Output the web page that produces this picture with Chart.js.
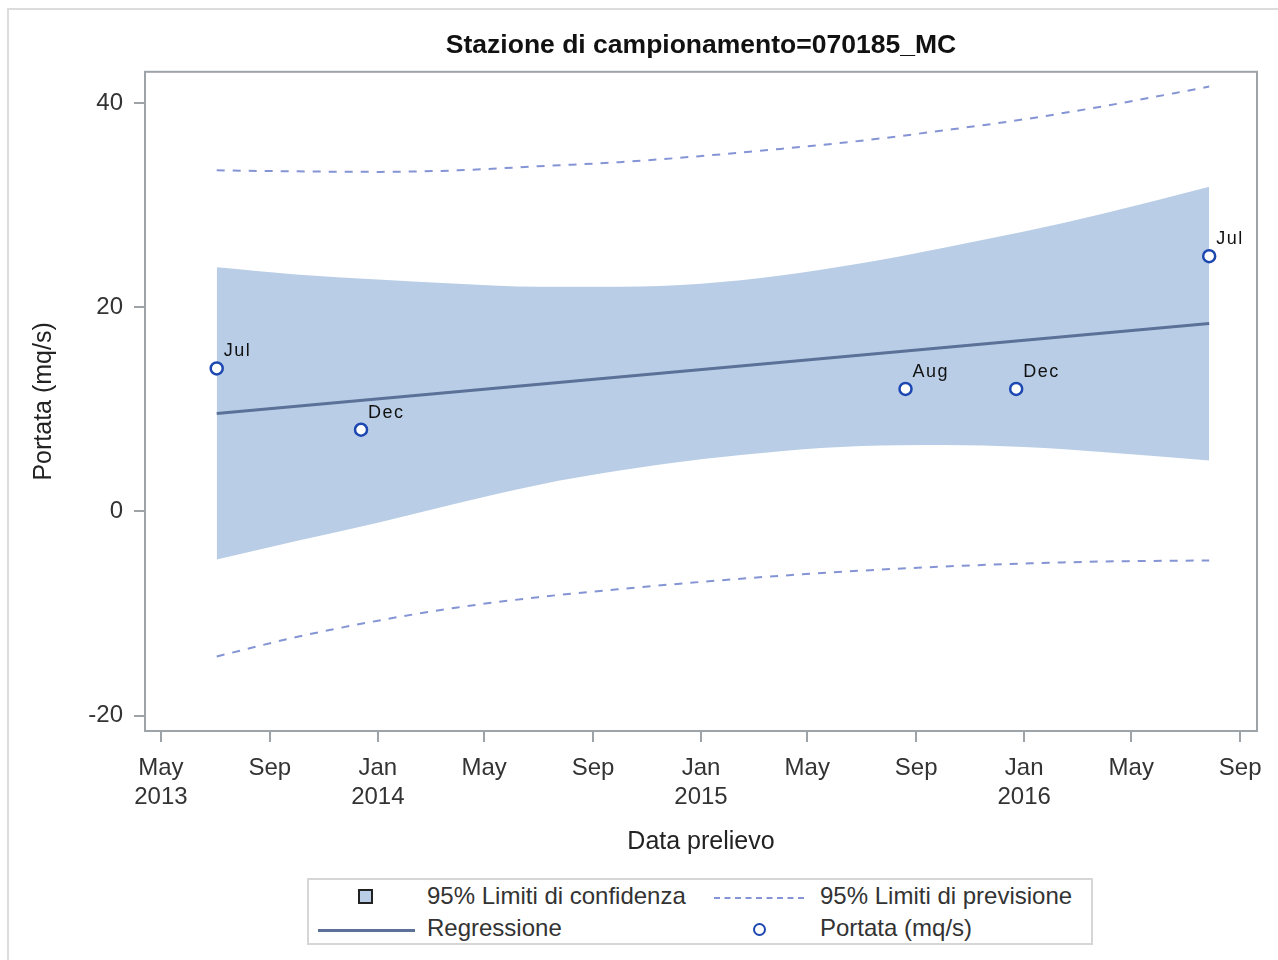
<!DOCTYPE html>
<html>
<head>
<meta charset="utf-8">
<script src="https://cdn.jsdelivr.net/npm/chart.js@4.4.1/dist/chart.umd.min.js"></script>
<style>
  html, body { margin: 0; padding: 0; background: #fff; }
  body { width: 1278px; height: 960px; position: relative; overflow: hidden; font-family: "Liberation Sans", Arial, sans-serif; }
  #frame { position: absolute; left: 7px; top: 8px; width: 1300px; height: 1000px; border: 2px solid #dcdcdc; box-sizing: border-box; }
  #wrap { position: absolute; left: 0; top: 0; width: 1278px; height: 960px; }
  #legend { position: absolute; left: 307px; top: 878px; width: 786px; height: 67px; border: 2px solid #d6d6d6; box-sizing: border-box; background: #fff; }
  #legend .txt { position: absolute; font-size: 24px; color: #333; line-height: 28px; white-space: nowrap; }
  #legend .sq { position: absolute; width: 15px; height: 15px; background: #b9cee6; border: 2px solid #222; box-sizing: border-box; }
  #legend .dash { position: absolute; height: 0; border-top: 2px dashed #8494d4; }
  #legend .solid { position: absolute; height: 0; border-top: 3px solid #5b7198; }
  #legend .dot { position: absolute; width: 13px; height: 13px; border: 2px solid #1d47b1; border-radius: 50%; box-sizing: border-box; }
</style>
</head>
<body>
<div id="frame"></div>
<div id="wrap"><canvas id="chart" width="1278" height="960"></canvas></div>
<div id="legend">
  <div class="sq" style="left:49px;top:9px"></div>
  <div class="txt" style="left:118px;top:2px">95% Limiti di confidenza</div>
  <div class="dash" style="left:405px;top:17px;width:90px"></div>
  <div class="txt" style="left:511px;top:2px">95% Limiti di previsione</div>
  <div class="solid" style="left:9px;top:49px;width:97px"></div>
  <div class="txt" style="left:118px;top:34px">Regressione</div>
  <div class="dot" style="left:444px;top:43px"></div>
  <div class="txt" style="left:511px;top:34px">Portata (mq/s)</div>
</div>
<script>
// observed values
const pointDates = ['2013-07-03', '2013-12-13', '2015-08-20', '2015-12-23', '2016-07-28'];
const portata = [14, 8, 12, 12, 25];
const pointLabels = ['Jul', 'Dec', 'Aug', 'Dec', 'Jul'];

// regression line
const regDates = ['2013-07-03', '2016-07-28'];
const regValues = [9.6, 18.4];

// confidence / prediction limits, read at these dates
const curveDates = ['2013-07-03', '2013-10-01', '2014-01-01', '2014-04-01', '2014-07-01', '2014-10-01',
  '2015-01-01', '2015-04-01', '2015-07-01', '2015-10-01', '2016-01-01', '2016-04-01', '2016-07-28'];
const confUpper = [23.9, 23.2, 22.7, 22.3, 22.0, 22.0, 22.3, 23.1, 24.3, 25.8, 27.4, 29.2, 31.8];
const confLower = [-4.7, -2.9, -1.1, 0.8, 2.6, 4.0, 5.1, 5.9, 6.4, 6.5, 6.3, 5.8, 5.0];
const predUpper = [33.4, 33.3, 33.25, 33.4, 33.8, 34.2, 34.8, 35.5, 36.3, 37.3, 38.4, 39.7, 41.6];
const predLower = [-14.2, -12.3, -10.7, -9.4, -8.4, -7.6, -6.9, -6.3, -5.8, -5.4, -5.1, -4.9, -4.8];

// axes
const xTickDates = ['2013-05-01', '2013-09-01', '2014-01-01', '2014-05-01', '2014-09-01', '2015-01-01',
  '2015-05-01', '2015-09-01', '2016-01-01', '2016-05-01', '2016-09-01'];
const xTickLabels = [['May', '2013'], 'Sep', ['Jan', '2014'], 'May', 'Sep', ['Jan', '2015'],
  'May', 'Sep', ['Jan', '2016'], 'May', 'Sep'];
const xRange = ['2013-04-13', '2016-09-20'];
const yTicks = [-20, 0, 20, 40];
const yRange = [-21.5, 43.05];

const toDay = s => {
  const [y, m, d] = s.split('-').map(Number);
  return Date.UTC(y, m - 1, d) / 86400000;
};
const series = (dates, vals) => dates.map((d, i) => ({ x: toDay(d), y: vals[i] }));

const tickColor = '#333';
const axisColor = '#9ea3a8';
const fontFamily = '"Liberation Sans", Arial, sans-serif';

const framePlugin = {
  id: 'frame',
  afterDraw(chart) {
    const { ctx, chartArea: a } = chart;
    ctx.save();
    ctx.strokeStyle = axisColor;
    ctx.lineWidth = 2;
    ctx.strokeRect(a.left, a.top, a.right - a.left, a.bottom - a.top);
    ctx.restore();
  }
};

const pointLabelPlugin = {
  id: 'pointLabels',
  afterDatasetsDraw(chart) {
    const { ctx } = chart;
    const meta = chart.getDatasetMeta(0);
    ctx.save();
    ctx.font = '18px ' + fontFamily;
    ctx.letterSpacing = '1.5px';
    ctx.fillStyle = '#111';
    ctx.textBaseline = 'alphabetic';
    meta.data.forEach((pt, i) => {
      ctx.fillText(pointLabels[i], pt.x + 7, pt.y - 12);
    });
    ctx.restore();
  }
};

new Chart(document.getElementById('chart'), {
  type: 'line',
  data: {
    datasets: [
      {
        label: 'Portata (mq/s)',
        data: series(pointDates, portata),
        showLine: false,
        pointRadius: 6,
        pointBorderWidth: 2.5,
        pointBorderColor: '#1d47b1',
        pointBackgroundColor: '#ffffff',
        order: 0
      },
      {
        label: 'Regressione',
        data: series(regDates, regValues),
        borderColor: '#5b7198',
        borderWidth: 3,
        pointRadius: 0,
        fill: false,
        order: 1
      },
      {
        label: '95% Limiti di previsione',
        data: series(curveDates, predUpper),
        borderColor: '#8494d4',
        borderWidth: 2,
        borderDash: [8, 8],
        pointRadius: 0,
        cubicInterpolationMode: 'monotone',
        fill: false,
        order: 2
      },
      {
        label: '95% Limiti di previsione (inf)',
        data: series(curveDates, predLower),
        borderColor: '#8494d4',
        borderWidth: 2,
        borderDash: [8, 8],
        pointRadius: 0,
        cubicInterpolationMode: 'monotone',
        fill: false,
        order: 2
      },
      {
        label: '95% Limiti di confidenza',
        data: series(curveDates, confUpper),
        borderWidth: 0,
        borderColor: 'rgba(0,0,0,0)',
        backgroundColor: '#b9cee6',
        pointRadius: 0,
        cubicInterpolationMode: 'monotone',
        fill: '+1',
        order: 3
      },
      {
        label: '95% Limiti di confidenza (inf)',
        data: series(curveDates, confLower),
        borderWidth: 0,
        borderColor: 'rgba(0,0,0,0)',
        pointRadius: 0,
        cubicInterpolationMode: 'monotone',
        fill: false,
        order: 3
      }
    ]
  },
  options: {
    responsive: false,
    animation: false,
    layout: { padding: { top: 10, right: 21, bottom: 100, left: 0 } },
    plugins: {
      legend: { display: false },
      tooltip: { enabled: false },
      title: {
        display: true,
        fullSize: false,
        text: 'Stazione di campionamento=070185_MC',
        color: '#111',
        font: { family: fontFamily, size: 26.5, weight: 'bold' },
        padding: { top: 20, bottom: 10 }
      }
    },
    scales: {
      x: {
        type: 'linear',
        min: toDay(xRange[0]),
        max: toDay(xRange[1]),
        afterBuildTicks: s => { s.ticks = xTickDates.map(d => ({ value: toDay(d) })); },
        afterFit: s => { s.height = 129; },
        ticks: {
          autoSkip: false,
          maxRotation: 0,
          padding: 12,
          color: tickColor,
          font: { family: fontFamily, size: 24 },
          callback: (v, i) => xTickLabels[i]
        },
        grid: { drawOnChartArea: false, drawTicks: true, tickLength: 11, color: axisColor, lineWidth: 2 },
        border: { display: true, color: axisColor, width: 2 },
        title: {
          display: true,
          text: 'Data prelievo',
          color: '#222',
          font: { family: fontFamily, size: 25 },
          padding: { top: 0, bottom: 3 }
        }
      },
      y: {
        min: yRange[0],
        max: yRange[1],
        afterBuildTicks: s => { s.ticks = yTicks.map(v => ({ value: v })); },
        afterFit: s => { s.width = 145; },
        ticks: {
          padding: 11,
          color: tickColor,
          font: { family: fontFamily, size: 24 }
        },
        grid: { drawOnChartArea: false, drawTicks: true, tickLength: 11, color: axisColor, lineWidth: 2 },
        border: { display: true, color: axisColor, width: 2 },
        title: {
          display: true,
          text: 'Portata (mq/s)',
          color: '#222',
          font: { family: fontFamily, size: 25 },
          padding: { top: 29, bottom: 0 }
        }
      }
    }
  },
  plugins: [framePlugin, pointLabelPlugin]
});
</script>
</body>
</html>
